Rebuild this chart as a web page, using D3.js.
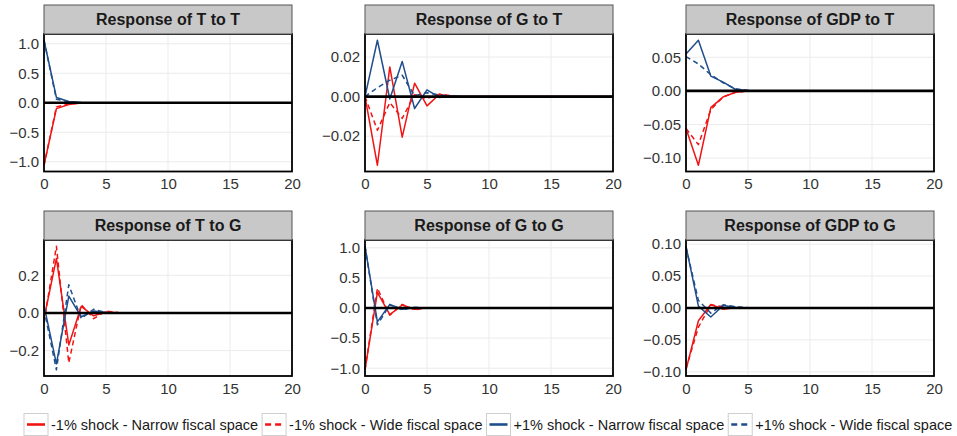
<!DOCTYPE html>
<html><head><meta charset="utf-8">
<script src="https://cdn.jsdelivr.net/npm/d3@7"></script>
<style>
body{margin:0;background:#fff}
svg{display:block}
text{font-family:"Liberation Sans",Arial,sans-serif}
</style></head>
<body><svg id="chart" width="957" height="436"></svg>
<script>
// ---- data ----
const horizons = [0,1,2,3,4,5,6,7,8,9,10,11,12,13,14,15,16,17,18,19,20];
const seriesNames = ["-1% shock - Narrow fiscal space","-1% shock - Wide fiscal space","+1% shock - Narrow fiscal space","+1% shock - Wide fiscal space"];
const panelTitles = ["Response of T to T","Response of G to T","Response of GDP to T","Response of T to G","Response of G to G","Response of GDP to G"];
const xTicks = [0,5,10,15,20];

// Response of T to T
const tt_negNarrow = [-1.06,-0.10,-0.03,-0.005,0,0,0,0,0,0,0,0,0,0,0,0,0,0,0,0,0];
const tt_negWide   = [-1.06,-0.07,-0.02,-0.003,0,0,0,0,0,0,0,0,0,0,0,0,0,0,0,0,0];
const tt_posNarrow = [1.06,0.09,0.02,0.003,0,0,0,0,0,0,0,0,0,0,0,0,0,0,0,0,0];
const tt_posWide   = [1.06,0.06,0.015,0.002,0,0,0,0,0,0,0,0,0,0,0,0,0,0,0,0,0];
// Response of G to T
const gt_negNarrow = [0,-0.0347,0.015,-0.0205,0.0068,-0.0047,0.0012,-0.0003,0,0,0,0,0,0,0,0,0,0,0,0,0];
const gt_negWide   = [0,-0.017,-0.003,-0.011,0.001,-0.001,0.0012,0.0005,0,0,0,0,0,0,0,0,0,0,0,0,0];
const gt_posNarrow = [0,0.0285,-0.0012,0.0178,-0.006,0.0034,-0.0004,0.0002,0,0,0,0,0,0,0,0,0,0,0,0,0];
const gt_posWide   = [0,0.0045,0.0083,0.0108,0.0005,0.002,0.0008,0.0003,0,0,0,0,0,0,0,0,0,0,0,0,0];
// Response of GDP to T
const yt_negNarrow = [-0.056,-0.1107,-0.025,-0.009,-0.002,-0.0003,0,0,0,0,0,0,0,0,0,0,0,0,0,0,0];
const yt_negWide   = [-0.056,-0.080,-0.028,-0.009,-0.002,-0.0003,0,0,0,0,0,0,0,0,0,0,0,0,0,0,0];
const yt_posNarrow = [0.055,0.0753,0.022,0.013,0.002,0.0005,0,0,0,0,0,0,0,0,0,0,0,0,0,0,0];
const yt_posWide   = [0.051,0.040,0.024,0.012,0.003,0.0005,0,0,0,0,0,0,0,0,0,0,0,0,0,0,0];
// Response of T to G
const tg_negNarrow = [-0.03,0.29,-0.17,0.035,-0.015,0.005,0.001,0,0,0,0,0,0,0,0,0,0,0,0,0,0];
const tg_negWide   = [-0.05,0.355,-0.265,0.045,-0.03,0.01,0.002,0,0,0,0,0,0,0,0,0,0,0,0,0,0];
const tg_posNarrow = [0.04,-0.27,0.09,-0.02,0.01,0.002,0,0,0,0,0,0,0,0,0,0,0,0,0,0,0];
const tg_posWide   = [0.02,-0.302,0.15,-0.03,0.02,0.003,0,0,0,0,0,0,0,0,0,0,0,0,0,0,0];
// Response of G to G
const gg_negNarrow = [-1.027,0.26,-0.11,0.05,-0.02,0.003,0,0,0,0,0,0,0,0,0,0,0,0,0,0,0];
const gg_negWide   = [-1.027,0.33,-0.12,0.06,-0.03,0.005,0,0,0,0,0,0,0,0,0,0,0,0,0,0,0];
const gg_posNarrow = [1.027,-0.23,0.06,-0.02,0.01,0.002,0,0,0,0,0,0,0,0,0,0,0,0,0,0,0];
const gg_posWide   = [1.027,-0.28,0.05,-0.03,0.01,0.003,0,0,0,0,0,0,0,0,0,0,0,0,0,0,0];
// Response of GDP to G
const yg_negNarrow = [-0.0968,-0.020,0.0055,-0.002,0.0005,0,0,0,0,0,0,0,0,0,0,0,0,0,0,0,0];
const yg_negWide   = [-0.095,-0.030,0.005,0.002,0.0005,0,0,0,0,0,0,0,0,0,0,0,0,0,0,0,0];
const yg_posNarrow = [0.0968,0.003,-0.014,0.004,0.001,0,0,0,0,0,0,0,0,0,0,0,0,0,0,0,0];
const yg_posWide   = [0.095,0.012,-0.008,0.005,0.002,0.0005,0,0,0,0,0,0,0,0,0,0,0,0,0,0,0];

// y tick labels per panel
const ticksTT = [-1,-0.5,0,0.5,1];
const ticksGT = [-0.02,0,0.02];
const ticksYT = [-0.10,-0.05,0,0.05];
const ticksTG = [-0.2,0,0.2];
const ticksGG = [-1,-0.5,0,0.5,1];
const ticksYG = [-0.10,-0.05,0,0.05,0.10];

// ---- build ----
const panels = [
  {title: panelTitles[0], series:[tt_negNarrow,tt_negWide,tt_posNarrow,tt_posWide], ticks:ticksTT, fmt:".1f"},
  {title: panelTitles[1], series:[gt_negNarrow,gt_negWide,gt_posNarrow,gt_posWide], ticks:ticksGT, fmt:".2f"},
  {title: panelTitles[2], series:[yt_negNarrow,yt_negWide,yt_posNarrow,yt_posWide], ticks:ticksYT, fmt:".2f"},
  {title: panelTitles[3], series:[tg_negNarrow,tg_negWide,tg_posNarrow,tg_posWide], ticks:ticksTG, fmt:".1f"},
  {title: panelTitles[4], series:[gg_negNarrow,gg_negWide,gg_posNarrow,gg_posWide], ticks:ticksGG, fmt:".1f"},
  {title: panelTitles[5], series:[yg_negNarrow,yg_negWide,yg_posNarrow,yg_posWide], ticks:ticksYG, fmt:".2f"}
];
const colors = ["#f01414","#f01414","#1f4e8c","#1f4e8c"];
const dashes = [null,"5,3.5",null,"5,3.5"];

const svg = d3.select("#chart");
const colX = [44, 365, 686];
const panelW = 248;
const stripTop = [5, 211];
const stripH = 29;
const plotBottom = [171.5, 376];

panels.forEach((p, i) => {
  const c = i % 3, r = Math.floor(i / 3);
  const x0 = colX[c], x1 = x0 + panelW;
  const yTop = stripTop[r] + stripH, yBot = plotBottom[r];
  const all = p.series.flat();
  const lo = d3.min(all), hi = d3.max(all);
  const pad = (hi - lo) * 0.05;
  const x = d3.scaleLinear().domain([0, 20]).range([x0, x1]);
  const y = d3.scaleLinear().domain([lo - pad, hi + pad]).range([yBot, yTop]);
  const g = svg.append("g");

  // grid
  g.selectAll(".gy").data(p.ticks).join("line")
    .attr("x1", x0).attr("x2", x1).attr("y1", d => y(d)).attr("y2", d => y(d))
    .attr("stroke", "#ebebeb").attr("stroke-width", 1);
  g.selectAll(".gx").data(xTicks).join("line")
    .attr("y1", yTop).attr("y2", yBot).attr("x1", d => x(d)).attr("x2", d => x(d))
    .attr("stroke", "#ebebeb").attr("stroke-width", 1);

  // series
  const line = d3.line().x((d, k) => x(horizons[k])).y(d => y(d));
  p.series.forEach((s, k) => {
    g.append("path").datum(s).attr("d", line)
      .attr("fill", "none").attr("stroke", colors[k]).attr("stroke-width", 1.5)
      .attr("stroke-dasharray", dashes[k]).attr("stroke-linejoin", "round");
  });

  // zero line
  g.append("line").attr("x1", x0).attr("x2", x1).attr("y1", y(0)).attr("y2", y(0))
    .attr("stroke", "#000").attr("stroke-width", 2.6);

  // border
  g.append("rect").attr("x", x0).attr("y", yTop).attr("width", panelW).attr("height", yBot - yTop)
    .attr("fill", "none").attr("stroke", "#000").attr("stroke-width", 1.8);

  // strip
  g.append("rect").attr("x", x0).attr("y", stripTop[r]).attr("width", panelW).attr("height", stripH)
    .attr("fill", "#c8c8c8").attr("stroke", "#555").attr("stroke-width", 1);
  g.append("text").attr("x", x0 + panelW / 2).attr("y", stripTop[r] + stripH / 2 + 5.5)
    .attr("text-anchor", "middle").attr("font-size", 16).attr("font-weight", "bold")
    .attr("fill", "#1a1a1a").text(p.title);

  // axes labels
  const yAxis = d3.axisLeft(y).tickValues(p.ticks).tickFormat(d3.format(p.fmt)).tickSize(0).tickPadding(5);
  const ya = g.append("g").attr("transform", `translate(${x0},0)`).call(yAxis);
  ya.select(".domain").remove();
  ya.selectAll("text").attr("font-size", 15).attr("fill", "#333").attr("font-family", '"Liberation Sans",Arial,sans-serif');
  const xAxis = d3.axisBottom(x).tickValues(xTicks).tickFormat(d3.format("d")).tickSize(0).tickPadding(7);
  const xa = g.append("g").attr("transform", `translate(0,${yBot})`).call(xAxis);
  xa.select(".domain").remove();
  xa.selectAll("text").attr("font-size", 15).attr("fill", "#333").attr("font-family", '"Liberation Sans",Arial,sans-serif');
});

// legend
const lg = svg.append("g");
let lx = 24;
const ly = 413.5;
seriesNames.forEach((name, k) => {
  lg.append("rect").attr("x", lx).attr("y", ly).attr("width", 24).attr("height", 22)
    .attr("fill", "#fff").attr("stroke", "#cfcfcf").attr("stroke-width", 1);
  lg.append("line").attr("x1", lx + 3).attr("x2", lx + 21).attr("y1", ly + 11).attr("y2", ly + 11)
    .attr("stroke", colors[k]).attr("stroke-width", 2.6).attr("stroke-dasharray", dashes[k] ? "6,4" : null);
  const t = lg.append("text").attr("x", lx + 27).attr("y", ly + 16).attr("font-size", 14.5)
    .attr("fill", "#1a1a1a").text(name);
  lx += 27 + t.node().getComputedTextLength() + 4;
});
</script></body></html>
